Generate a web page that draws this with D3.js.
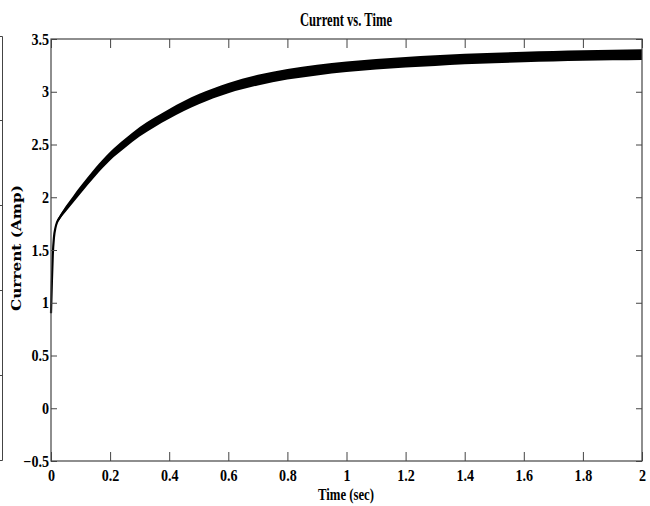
<!DOCTYPE html>
<html>
<head>
<meta charset="utf-8">
<script src="https://cdn.jsdelivr.net/npm/d3@7"></script>
<style>
  body { margin: 0; background: #fff; }
  svg { display: block; }
</style>
</head>
<body>
<div id="chart-area"></div>
<script>
// time samples (sec) and current (Amp)
var times = [0, 0.003, 0.006, 0.01, 0.015, 0.02, 0.03, 0.05, 0.075, 0.1, 0.15, 0.2, 0.25, 0.3, 0.35, 0.4, 0.45,
  0.5, 0.6, 0.7, 0.8, 0.9, 1.0, 1.1, 1.2, 1.3, 1.4, 1.5, 1.6, 1.7, 1.8, 1.9, 2.0];
var current = [0.9, 1.2, 1.45, 1.62, 1.71, 1.76, 1.81, 1.89, 1.98, 2.07, 2.24, 2.39, 2.51, 2.62, 2.71, 2.79, 2.865,
  2.93, 3.035, 3.11, 3.165, 3.205, 3.237, 3.26, 3.28, 3.295, 3.31, 3.32, 3.33, 3.337, 3.343, 3.348, 3.352];
// half height of the ripple band round the curve
var ripple = [0.005, 0.005, 0.008, 0.01, 0.012, 0.015, 0.02, 0.028, 0.033, 0.036, 0.04, 0.042, 0.044, 0.045, 0.046, 0.047, 0.047,
  0.048, 0.049, 0.05, 0.05, 0.05, 0.05, 0.05, 0.05, 0.05, 0.05, 0.05, 0.05, 0.05, 0.05, 0.05, 0.05];

var xTicks = [0, 0.2, 0.4, 0.6, 0.8, 1, 1.2, 1.4, 1.6, 1.8, 2];
var yTicks = [-0.5, 0, 0.5, 1, 1.5, 2, 2.5, 3, 3.5];

var data = times.map(function (t, i) {
  return { t: t, v: current[i], r: ripple[i] };
});

var W = 650, H = 506;
var box = { left: 51, right: 642, top: 39, bottom: 461 };
var serif = "'Liberation Serif', 'Times New Roman', serif";

var svg = d3.select("#chart-area").append("svg")
  .attr("width", W)
  .attr("height", H);

var x = d3.scaleLinear().domain([0, 2]).range([box.left, box.right]);
var y = d3.scaleLinear().domain([-0.5, 3.5]).range([box.bottom, box.top]);

// piece of the neighbouring figure cut at the left edge
svg.append("path")
  .attr("d", "M0,36.5H2.5V460.5H0M0,120.5H2.5M0,205.5H2.5M0,290.5H2.5M0,375.5H2.5")
  .attr("fill", "none")
  .attr("stroke", "#444")
  .attr("stroke-width", 1);

// ripple band
var band = d3.area()
  .x(function (d) { return x(d.t); })
  .y0(function (d) { return y(d.v - d.r); })
  .y1(function (d) { return y(d.v + d.r); })
  .curve(d3.curveMonotoneX);

svg.append("path")
  .datum(data)
  .attr("d", band)
  .attr("fill", "#000");

var line = d3.line()
  .x(function (d) { return x(d.t); })
  .y(function (d) { return y(d.v); })
  .curve(d3.curveMonotoneX);

svg.append("path")
  .datum(data)
  .attr("d", line)
  .attr("fill", "none")
  .attr("stroke", "#000")
  .attr("stroke-width", 2.2);

// axes, ticks point inward on all four sides
function styleAxis(g) {
  g.select(".domain").remove();
  g.selectAll(".tick line").attr("stroke", "#444");
  g.selectAll("text")
    .attr("font-family", serif)
    .attr("font-weight", "bold")
    .attr("font-size", 16)
    .attr("fill", "#000")
    .each(function () {
      var len = this.getComputedTextLength();
      if (len > 0) {
        d3.select(this)
          .attr("textLength", len * 0.88)
          .attr("lengthAdjust", "spacingAndGlyphs");
      }
    });
}

svg.append("g")
  .attr("transform", "translate(0," + box.bottom + ")")
  .call(d3.axisBottom(x).tickValues(xTicks).tickSize(-9).tickPadding(9).tickFormat(d3.format("")))
  .call(styleAxis);

svg.append("g")
  .attr("transform", "translate(" + box.left + ",0)")
  .call(d3.axisLeft(y).tickValues(yTicks).tickSize(-6).tickPadding(2).tickFormat(d3.format("")))
  .call(styleAxis);

// the corner label sits a touch higher so it clears the x label "0"
svg.selectAll("text").filter(function () { return this.textContent === "-0.5"; })
  .attr("dy", "0.08em");

svg.append("g")
  .attr("transform", "translate(0," + box.top + ")")
  .call(d3.axisTop(x).tickValues(xTicks).tickSize(-9).tickFormat(""))
  .call(styleAxis);

svg.append("g")
  .attr("transform", "translate(" + box.right + ",0)")
  .call(d3.axisRight(y).tickValues(yTicks).tickSize(-6).tickFormat(""))
  .call(styleAxis);

svg.append("rect")
  .attr("x", box.left)
  .attr("y", box.top)
  .attr("width", box.right - box.left)
  .attr("height", box.bottom - box.top)
  .attr("fill", "none")
  .attr("stroke", "#444")
  .attr("stroke-width", 1.2);

// labels
svg.append("text")
  .attr("x", 346)
  .attr("y", 26)
  .attr("text-anchor", "middle")
  .attr("font-family", serif)
  .attr("font-weight", "bold")
  .attr("font-size", 18)
  .attr("textLength", 92)
  .attr("lengthAdjust", "spacingAndGlyphs")
  .text("Current vs. Time");

svg.append("text")
  .attr("x", 346)
  .attr("y", 500)
  .attr("text-anchor", "middle")
  .attr("font-family", serif)
  .attr("font-weight", "bold")
  .attr("font-size", 16)
  .attr("textLength", 56)
  .attr("lengthAdjust", "spacingAndGlyphs")
  .text("Time (sec)");

svg.append("text")
  .attr("transform", "translate(21,248) rotate(-90)")
  .attr("text-anchor", "middle")
  .attr("font-family", "'DejaVu Serif', serif")
  .attr("font-weight", "bold")
  .attr("font-size", 13)
  .attr("textLength", 126)
  .attr("lengthAdjust", "spacingAndGlyphs")
  .text("Current (Amp)");
</script>
</body>
</html>
